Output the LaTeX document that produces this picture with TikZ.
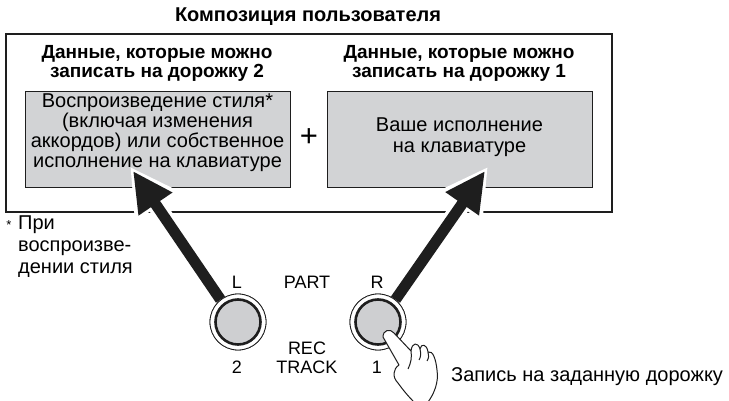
\documentclass[tikz,border=0pt]{standalone}
\usepackage{fontspec}
\setmainfont{Liberation Sans}
\usetikzlibrary{arrows.meta,calc}

\definecolor{panelgray}{RGB}{210,211,213}
\definecolor{keygray}{RGB}{206,207,209}
\definecolor{ink}{RGB}{30,30,30}

\tikzset{
  frame/.style={draw=ink, line width=1.8pt, minimum width=606pt, minimum height=178pt, inner sep=0pt},
  panel/.style={draw=ink, line width=0.9pt, fill=panelgray, minimum width=265pt, minimum height=96pt, inner sep=0pt},
  bodytext/.style={align=center, inner sep=0pt, font=\fontsize{20}{20}\selectfont},
  head/.style={align=center, inner sep=0pt, font=\bfseries\fontsize{19}{19}\selectfont},
  lbl/.style={inner sep=0pt, font=\fontsize{18}{18}\selectfont},
  keyring/.style={circle, draw=ink, fill=white, line width=0.8pt, minimum size=56pt, inner sep=0pt},
  keycap/.style={circle, draw=ink, fill=keygray, line width=2.6pt, minimum size=45pt, inner sep=0pt},
  bigarrow/.style={ink, line width=11pt, -{Triangle[length=40pt,width=38pt]}},
  halo/.style={white, line width=18pt, -{Triangle[length=48pt,width=50pt]}},
}

\begin{document}
\begin{tikzpicture}[x=1pt,y=-1pt]
\useasboundingbox (0,0) rectangle (729,401);

% song frame and the two track panels
\node[font=\bfseries\fontsize{20}{20}\selectfont, inner sep=0pt] (title) at (308,17) {Композиция пользователя};
\node[frame] (song) at (309,123) {};
\node[head] (headTwo) at (157,63) {Данные, которые можно\\записать на дорожку 2};
\node[head] (headOne) at (459,63) {Данные, которые можно\\записать на дорожку 1};
\node[panel] (trackTwo) at (157.5,139) {};
\node[panel] (trackOne) at (459.5,139) {};
\node[bodytext] (styleTxt) at ($(trackTwo)+(0,-6)$) {Воспроизведение стиля*\\(включая изменения\\аккордов) или собственное\\исполнение на клавиатуре};
\node[bodytext, font=\fontsize{20}{21.5}\selectfont] (playTxt) at ($(trackOne)+(0,-2)$) {Ваше исполнение\\на клавиатуре};
\node[inner sep=0pt, font=\fontsize{31}{31}\selectfont] (plus) at (309,138) {+};

% PART / REC TRACK buttons
\coordinate (tipL) at (133,171);
\coordinate (tipR) at (485,171);
\node[keyring] (btnL) at (238,322) {};
\node[keyring] (btnR) at (378,322) {};

\draw[halo] ($(btnL.128)!0.4!(tipL)$) -- ($(tipL)!-5pt!(btnL.128)$);
\draw[halo] ($(btnR.52)!0.4!(tipR)$) -- ($(tipR)!-5pt!(btnR.52)$);
\draw[bigarrow] (btnL.128) -- (tipL);
\draw[bigarrow] (btnR.52) -- (tipR);

\node[keyring] at (btnL) {};
\node[keyring] at (btnR) {};
\node[keycap] (capL) at (btnL) {};
\node[keycap] (capR) at (btnR) {};

\node[lbl] (partL) at (237,282) {L};
\node[lbl] (part) at (307,282) {PART};
\node[lbl] (partR) at (377,282) {R};
\node[lbl] (rec) at (307,348) {REC};
\node[lbl] (track) at (307,367) {TRACK};
\node[lbl] (trkTwo) at (237,367) {2};
\node[lbl] (trkOne) at (377,367) {1};

% hand pressing R
\draw[ink, fill=white, line width=1pt, line join=round]
  (394,333) .. controls (390,328) and (383,330) .. (383,337)
  -- (399,365)
  .. controls (393,369) and (392,377) .. (398,383)
  .. controls (403,390) and (408,396) .. (414,402)
  -- (428,402)
  .. controls (434,394) and (439,382) .. (437,370)
  .. controls (436,360) and (433,350) .. (428,352)
  .. controls (427,344) and (421,343) .. (420,349)
  .. controls (418,342) and (412,342) .. (411,351)
  -- cycle;
\draw[ink, line width=1pt] (411,351) .. controls (412,357) and (411,363) .. (408,369);
\draw[ink, line width=1pt] (420,349) .. controls (421,353) and (421,357) .. (419,360);
\draw[ink, line width=1pt] (428,352) .. controls (429,355) and (429,358) .. (427,361);

\node[anchor=west, inner sep=0pt, font=\fontsize{20}{20}\selectfont] (memo) at (451,377) {Запись на заданную дорожку};

% footnote
\node[inner sep=0pt, font=\fontsize{13}{13}\selectfont] (star) at (9,225) {*};
\node[anchor=north west, align=left, inner sep=0pt, font=\fontsize{20}{22}\selectfont] (note) at (18,216) {При\\воспроизве-\\дении стиля};
\end{tikzpicture}
\end{document}
